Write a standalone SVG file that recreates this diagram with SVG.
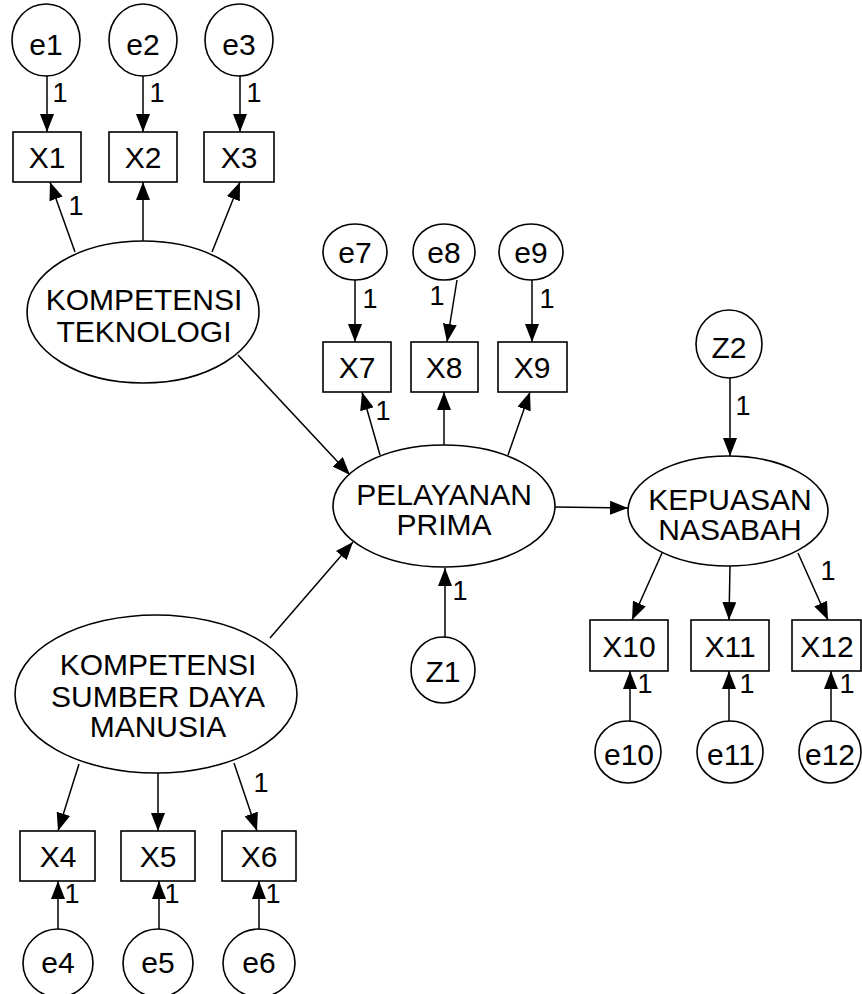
<svg xmlns="http://www.w3.org/2000/svg" width="862" height="994" viewBox="0 0 862 994">
<defs>
<style>
.n{fill:#fff;stroke:#000;stroke-width:1.6}
.t{font-family:"Liberation Sans",Arial,sans-serif;font-size:30px;fill:#000;text-anchor:middle}
.l{font-family:"Liberation Sans",Arial,sans-serif;font-size:27px;fill:#000;text-anchor:middle}
.c line{stroke:#000;stroke-width:1.5;marker-end:url(#ah)}
</style>
<marker id="ah" markerUnits="userSpaceOnUse" markerWidth="18" markerHeight="14" refX="18" refY="7" orient="auto">
<path d="M0,0 L18,7 L0,14 z" fill="#000"/>
</marker>
</defs>
<rect width="862" height="994" fill="#fff"/>

<g id="connectors" class="c">
<line x1="47" y1="76" x2="47" y2="132"/>
<line x1="143" y1="76" x2="143" y2="132"/>
<line x1="240" y1="76" x2="240" y2="132"/>
<line x1="75" y1="252" x2="50" y2="182"/>
<line x1="143" y1="241" x2="143" y2="182"/>
<line x1="212" y1="252" x2="240" y2="182"/>
<line x1="238" y1="355" x2="350" y2="475"/>
<line x1="270" y1="638" x2="353" y2="542"/>
<line x1="355" y1="280" x2="355" y2="342"/>
<line x1="457" y1="280" x2="447" y2="342"/>
<line x1="532" y1="280" x2="532" y2="342"/>
<line x1="380" y1="455" x2="362" y2="392"/>
<line x1="444" y1="445" x2="444" y2="392"/>
<line x1="508" y1="455" x2="530" y2="392"/>
<line x1="445" y1="637" x2="445" y2="568"/>
<line x1="555" y1="507" x2="628" y2="508"/>
<line x1="730" y1="378" x2="730" y2="456"/>
<line x1="662" y1="553" x2="632" y2="620"/>
<line x1="730" y1="566" x2="729" y2="620"/>
<line x1="798" y1="553" x2="828" y2="620"/>
<line x1="630" y1="722" x2="630" y2="671"/>
<line x1="729" y1="722" x2="729" y2="671"/>
<line x1="831" y1="722" x2="831" y2="671"/>
<line x1="79" y1="764" x2="58" y2="831"/>
<line x1="158" y1="773" x2="158" y2="831"/>
<line x1="234" y1="763" x2="257" y2="831"/>
<line x1="58" y1="929" x2="58" y2="881"/>
<line x1="159" y1="929" x2="159" y2="881"/>
<line x1="259" y1="929" x2="259" y2="881"/>
</g>

<g id="labels">
<text class="l" x="60" y="102">1</text>
<text class="l" x="157" y="102">1</text>
<text class="l" x="254" y="102">1</text>
<text class="l" x="76" y="215">1</text>
<text class="l" x="370" y="308">1</text>
<text class="l" x="437" y="305">1</text>
<text class="l" x="547" y="308">1</text>
<text class="l" x="383" y="420">1</text>
<text class="l" x="460" y="600">1</text>
<text class="l" x="743" y="415">1</text>
<text class="l" x="828" y="580">1</text>
<text class="l" x="645" y="693">1</text>
<text class="l" x="747" y="693">1</text>
<text class="l" x="847" y="693">1</text>
<text class="l" x="261" y="792">1</text>
<text class="l" x="72" y="903">1</text>
<text class="l" x="172" y="903">1</text>
<text class="l" x="273" y="903">1</text>
</g>

<g id="e1"><ellipse class="n" cx="46" cy="40" rx="34" ry="36"/><text class="t" x="46" y="55">e1</text></g>
<g id="e2"><ellipse class="n" cx="143" cy="40" rx="34" ry="36"/><text class="t" x="143" y="55">e2</text></g>
<g id="e3"><ellipse class="n" cx="239" cy="40" rx="34" ry="36"/><text class="t" x="239" y="55">e3</text></g>

<g id="X1"><rect class="n" x="13" y="132" width="68" height="50"/><text class="t" x="47" y="168">X1</text></g>
<g id="X2"><rect class="n" x="109" y="132" width="68" height="50"/><text class="t" x="143" y="168">X2</text></g>
<g id="X3"><rect class="n" x="204" y="132" width="70" height="50"/><text class="t" x="239" y="168">X3</text></g>

<g id="kompetensi-teknologi"><ellipse class="n" cx="143" cy="312" rx="116" ry="71"/><text class="t" x="144" y="310">KOMPETENSI</text><text class="t" x="144" y="342">TEKNOLOGI</text></g>

<g id="e7"><ellipse class="n" cx="355" cy="252" rx="32" ry="28"/><text class="t" x="355" y="263">e7</text></g>
<g id="e8"><ellipse class="n" cx="444" cy="252" rx="31" ry="28"/><text class="t" x="444" y="263">e8</text></g>
<g id="e9"><ellipse class="n" cx="531" cy="252" rx="32" ry="28"/><text class="t" x="531" y="263">e9</text></g>

<g id="X7"><rect class="n" x="323" y="342" width="68" height="50"/><text class="t" x="357" y="378">X7</text></g>
<g id="X8"><rect class="n" x="411" y="342" width="67" height="50"/><text class="t" x="444" y="378">X8</text></g>
<g id="X9"><rect class="n" x="498" y="342" width="69" height="50"/><text class="t" x="532" y="378">X9</text></g>

<g id="pelayanan-prima"><ellipse class="n" cx="444" cy="506" rx="111" ry="61"/><text class="t" x="444" y="505">PELAYANAN</text><text class="t" x="444" y="535">PRIMA</text></g>

<g id="Z1"><ellipse class="n" cx="443" cy="670" rx="32" ry="33"/><text class="t" x="443" y="682">Z1</text></g>

<g id="Z2"><ellipse class="n" cx="729" cy="344" rx="33" ry="34"/><text class="t" x="729" y="358">Z2</text></g>

<g id="kepuasan-nasabah"><ellipse class="n" cx="728" cy="511" rx="100" ry="55"/><text class="t" x="730" y="510">KEPUASAN</text><text class="t" x="730" y="540">NASABAH</text></g>

<g id="X10"><rect class="n" x="590" y="620" width="78" height="51"/><text class="t" x="629" y="657">X10</text></g>
<g id="X11"><rect class="n" x="691" y="620" width="78" height="51"/><text class="t" x="730" y="657">X11</text></g>
<g id="X12"><rect class="n" x="792" y="620" width="69" height="51"/><text class="t" x="827" y="657">X12</text></g>

<g id="e10"><ellipse class="n" cx="628" cy="752" rx="33" ry="31"/><text class="t" x="629" y="765">e10</text></g>
<g id="e11"><ellipse class="n" cx="730" cy="752" rx="33" ry="31"/><text class="t" x="731" y="765">e11</text></g>
<g id="e12"><ellipse class="n" cx="830" cy="752" rx="31" ry="31"/><text class="t" x="830" y="765">e12</text></g>

<g id="kompetensi-sdm"><ellipse class="n" cx="156" cy="694" rx="141" ry="79"/><text class="t" x="158" y="675">KOMPETENSI</text><text class="t" x="158" y="707">SUMBER DAYA</text><text class="t" x="158" y="737">MANUSIA</text></g>

<g id="X4"><rect class="n" x="20" y="831" width="75" height="50"/><text class="t" x="58" y="867">X4</text></g>
<g id="X5"><rect class="n" x="121" y="831" width="74" height="50"/><text class="t" x="158" y="867">X5</text></g>
<g id="X6"><rect class="n" x="222" y="831" width="74" height="50"/><text class="t" x="259" y="867">X6</text></g>

<g id="e4"><ellipse class="n" cx="58" cy="963" rx="35" ry="34"/><text class="t" x="58" y="973">e4</text></g>
<g id="e5"><ellipse class="n" cx="158" cy="963" rx="35" ry="34"/><text class="t" x="158" y="973">e5</text></g>
<g id="e6"><ellipse class="n" cx="259" cy="963" rx="36" ry="34"/><text class="t" x="259" y="973">e6</text></g>
</svg>
